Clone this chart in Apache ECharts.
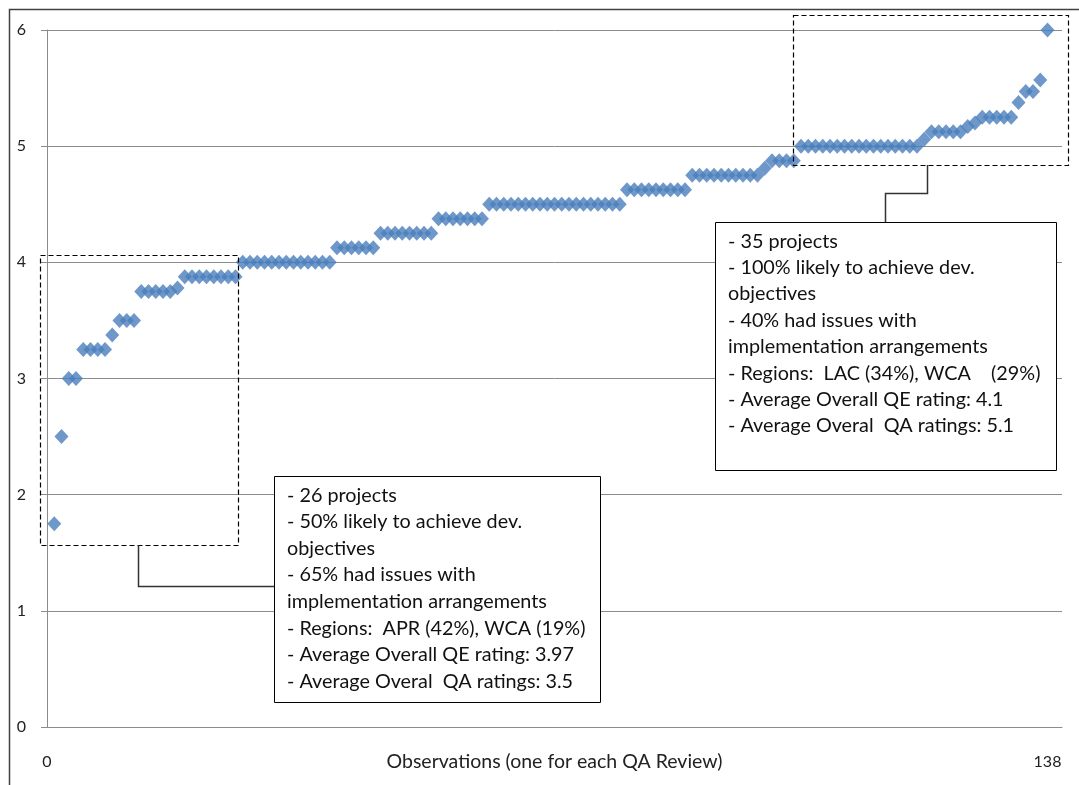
<!DOCTYPE html>
<html><head><meta charset="utf-8">
<script src="https://cdn.jsdelivr.net/npm/echarts@6/dist/echarts.min.js"></script>
<style>html,body{margin:0;padding:0;background:#fff}#c{width:1079px;height:785px}</style>
</head><body><div id="c"></div>
<script>
// QA ratings, sorted ascending, one per QA review (observation 1..138)
const ratings = [
  1.75, 2.5, 3, 3, 3.25, 3.25, 3.25, 3.25, 3.375, 3.5, 3.5, 3.5,
  3.75, 3.75, 3.75, 3.75, 3.75, 3.78,
  3.875, 3.875, 3.875, 3.875, 3.875, 3.875, 3.875, 3.875,
  4, 4, 4, 4, 4, 4, 4, 4, 4, 4, 4, 4, 4,
  4.125, 4.125, 4.125, 4.125, 4.125, 4.125,
  4.25, 4.25, 4.25, 4.25, 4.25, 4.25, 4.25, 4.25,
  4.375, 4.375, 4.375, 4.375, 4.375, 4.375, 4.375,
  4.5, 4.5, 4.5, 4.5, 4.5, 4.5, 4.5, 4.5, 4.5, 4.5, 4.5, 4.5, 4.5, 4.5, 4.5, 4.5, 4.5, 4.5, 4.5,
  4.625, 4.625, 4.625, 4.625, 4.625, 4.625, 4.625, 4.625, 4.625,
  4.75, 4.75, 4.75, 4.75, 4.75, 4.75, 4.75, 4.75, 4.75, 4.75,
  4.81, 4.875, 4.875, 4.875, 4.875,
  5, 5, 5, 5, 5, 5, 5, 5, 5, 5, 5, 5, 5, 5, 5, 5, 5,
  5.06, 5.125, 5.125, 5.125, 5.125, 5.125, 5.17, 5.2,
  5.25, 5.25, 5.25, 5.25, 5.25, 5.375, 5.47, 5.47, 5.57, 6
];
const xTickLabels = [0, 138];
const xAxisTitle = 'Observations (one for each QA Review)';
const leftNote = [
  '- 26 projects',
  '- 50% likely to achieve dev.',
  'objectives',
  '- 65% had issues with',
  'implementation arrangements',
  '- Regions:  APR (42%), WCA (19%)',
  '- Average Overall QE rating: 3.97',
  '- Average Overal  QA ratings: 3.5'
];
const rightNote = [
  '- 35 projects',
  '- 100% likely to achieve dev.',
  'objectives',
  '- 40% had issues with',
  'implementation arrangements',
  '- Regions:  LAC (34%), WCA    (29%)',
  '- Average Overall QE rating: 4.1',
  '- Average Overal  QA ratings: 5.1'
];

const FONT = 'Lato, "Open Sans", sans-serif';
const points = ratings.map((v, i) => [i + 1, v]);
const chart = echarts.init(document.getElementById('c'), null, {renderer: 'canvas'});

const noteFont = '19.8px ' + FONT;
chart.setOption({
  animation: false,
  backgroundColor: '#fff',
  grid: {left: 47, right: 17, top: 30, bottom: 58, containLabel: false, outerBoundsMode: 'none'},
  xAxis: {
    type: 'value', min: 0, max: 140,
    name: xAxisTitle, nameLocation: 'middle', nameGap: 25, nameMoveOverlap: false,
    nameTextStyle: {fontFamily: FONT, fontSize: 19.5, color: '#222'},
    axisLine: {show: true, onZero: false, lineStyle: {color: '#8c8c8c', width: 1}},
    axisTick: {show: false},
    splitLine: {show: false},
    axisLabel: {customValues: xTickLabels, margin: 27, fontFamily: FONT, fontSize: 16, color: '#222'}
  },
  yAxis: {
    type: 'value', min: 0, max: 6, interval: 1,
    axisLine: {show: true, lineStyle: {color: '#8c8c8c', width: 1}},
    axisTick: {show: true, inside: false, length: 6, lineStyle: {color: '#8c8c8c'}},
    splitLine: {show: true, lineStyle: {color: '#8c8c8c', width: 1}},
    axisLabel: {margin: 21, fontFamily: FONT, fontSize: 16, color: '#222'}
  },
  series: [{
    type: 'scatter',
    data: points,
    symbol: 'diamond',
    symbolSize: [14, 15],
    itemStyle: {color: '#4A7EBB'},
    z: 3
  }],
  graphic: [
    {type: 'rect', shape: {x: 9.5, y: 9.5, width: 1100, height: 800}, style: {fill: null, stroke: '#404040', lineWidth: 1.5}, z: 1, silent: true},
    {type: 'rect', shape: {x: 40.5, y: 255.5, width: 198, height: 290}, style: {fill: null, stroke: '#000', lineWidth: 1.2, lineDash: [5, 3]}, z: 10},
    {type: 'rect', shape: {x: 793.5, y: 15.5, width: 275, height: 150}, style: {fill: null, stroke: '#000', lineWidth: 1.2, lineDash: [5, 3]}, z: 10},
    {type: 'polyline', shape: {points: [[138.5, 545], [138.5, 586.5], [274, 586.5]]}, style: {fill: null, stroke: '#333', lineWidth: 1.5}, z: 10},
    {type: 'polyline', shape: {points: [[927.5, 165], [927.5, 193.5], [885.5, 193.5], [885.5, 222]]}, style: {fill: null, stroke: '#333', lineWidth: 1.5}, z: 10},
    {type: 'rect', shape: {x: 274.5, y: 476.5, width: 326, height: 226}, style: {fill: '#fff', stroke: '#000', lineWidth: 1}, z: 10},
    {type: 'rect', shape: {x: 715.5, y: 222.5, width: 341, height: 248}, style: {fill: '#fff', stroke: '#000', lineWidth: 1}, z: 10},
    {type: 'text', x: 287, y: 482, style: {text: leftNote.join('\n'), font: noteFont, fill: '#111', lineHeight: 26.6, verticalAlign: 'top'}, z: 11},
    {type: 'text', x: 728, y: 228, style: {text: rightNote.join('\n'), font: noteFont, fill: '#111', lineHeight: 26.4, verticalAlign: 'top'}, z: 11}
  ]
});
</script></body></html>
